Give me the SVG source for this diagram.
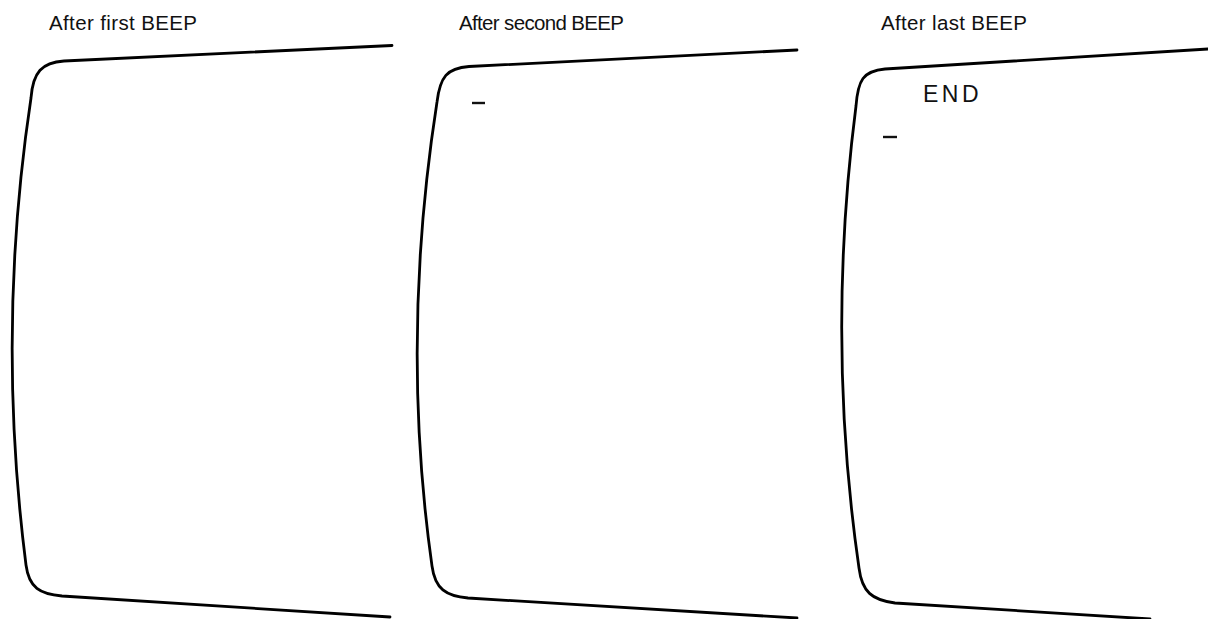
<svg xmlns="http://www.w3.org/2000/svg" width="1208" height="619" viewBox="0 0 1208 619">
<style>
.screen{fill:none;stroke:#000;stroke-width:2.8;stroke-linecap:round;stroke-linejoin:round}
.label{font-family:"Liberation Sans",Arial,sans-serif;font-size:20.5px;fill:#111}
.term{font-family:"Liberation Sans",Arial,sans-serif;font-size:23px;fill:#111;letter-spacing:3.5px}
.cursor{stroke:#111;stroke-width:2.4}
</style>
<rect width="1208" height="619" fill="#fff"/>
<g id="screen1">
<text class="label" x="49" y="30" textLength="148">After first BEEP</text>
<path class="screen" d="M392,45.5 L64,61 C42,62.5 33,72 31,98 Q-4,330 26,565 C29,588 40,594 62,596 L390,617"/>
</g>
<g id="screen2">
<text class="label" x="459" y="30" textLength="165">After second BEEP</text>
<path class="screen" d="M797,50 L469,66.5 C447,68 440,77 437,102 Q400,340 432,566 C435,589 446,596 468,598 L797,618"/>
<line class="cursor" x1="472" y1="103" x2="485" y2="103"/>
</g>
<g id="screen3">
<text class="label" x="881" y="30" textLength="146">After last BEEP</text>
<path class="screen" d="M1208,49 L885,69 C863,71 858,80 856,106 Q826,340 859,568 C862,592 872,600 895,603 L1150,619"/>
<text class="term" x="923" y="102">END</text>
<line class="cursor" x1="883" y1="137" x2="897" y2="137"/>
</g>
<g id="connectors"></g>
</svg>
